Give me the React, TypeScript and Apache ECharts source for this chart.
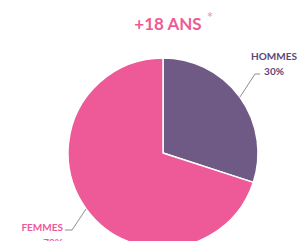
import React, { useEffect, useRef } from "react";
import * as echarts from "echarts";

const categories = ["HOMMES", "FEMMES"];
const values = [30, 70];
const colors = ["#6F5A86", "#EE5A97"];
const labelColors = ["#5B4677", "#EE5A97"];
const title = "+18 ANS";

const CX = 163;
const CY = 153;
const R = 95;

export default function App() {
  const ref = useRef<HTMLDivElement>(null);
  useEffect(() => {
    const chart = echarts.init(ref.current!, null, { renderer: "svg" });
    const total = values.reduce((a, b) => a + b, 0);
    let cum = 0;
    const edges = values.map((v) => {
      const a = ((cum + v / 2) / total) * Math.PI * 2;
      cum += v;
      return [CX + R * Math.sin(a), CY - R * Math.cos(a)];
    });
    const elbows = [
      [[255, 74], [260, 74]],
      [[72, 230], [65, 230]],
    ];
    const lines: any[] = edges.map((e, i) => ({
      type: "polyline",
      silent: true,
      z: 100,
      shape: { points: [e, ...elbows[i]] },
      style: { stroke: "#8E8E8E", lineWidth: 1, fill: "none" },
    }));
    chart.setOption({
      animation: false,
      graphic: [
        {
          type: "text",
          x: 168,
          y: 23,
          style: {
            text: title,
            fill: "#EE5A97",
            font: "bold 17px Lato",
            textAlign: "center",
            textVerticalAlign: "middle",
          },
        },
        {
          type: "text",
          x: 210,
          y: 17,
          style: {
            text: "*",
            fill: "#F28DB6",
            font: "15px Lato",
            textAlign: "center",
            textVerticalAlign: "middle",
          },
        },
        ...lines,
      ],
      series: [
        {
          type: "pie",
          center: [CX, CY],
          radius: R,
          startAngle: 90,
          clockwise: true,
          itemStyle: { borderColor: "#ffffff", borderWidth: 1.5 },
          label: {
            show: true,
            position: "outside",
            alignTo: "none",
            overflow: "none",
            edgeDistance: 0,
            formatter: (p: any) => `${p.name}\n${p.value}%`,
            fontFamily: "Lato",
            fontWeight: "bold",
            fontSize: 10,
            lineHeight: 15,
          },
          labelLine: { show: false },
          labelLayout: (params: any) => {
            if (params.dataIndex === 0) {
              return { x: 274, y: 48, align: "center", verticalAlign: "top" };
            }
            return { x: 63, y: 219, align: "right", verticalAlign: "top" };
          },
          data: categories.map((c, i) => ({
            name: c,
            value: values[i],
            itemStyle: { color: colors[i] },
            label: { color: labelColors[i] },
          })),
        },
      ],
    });
    return () => chart.dispose();
  }, []);
  return (
    <div
      ref={ref}
      style={{ position: "fixed", left: 0, top: 0, width: 302, height: 241, background: "#fff" }}
    />
  );
}
